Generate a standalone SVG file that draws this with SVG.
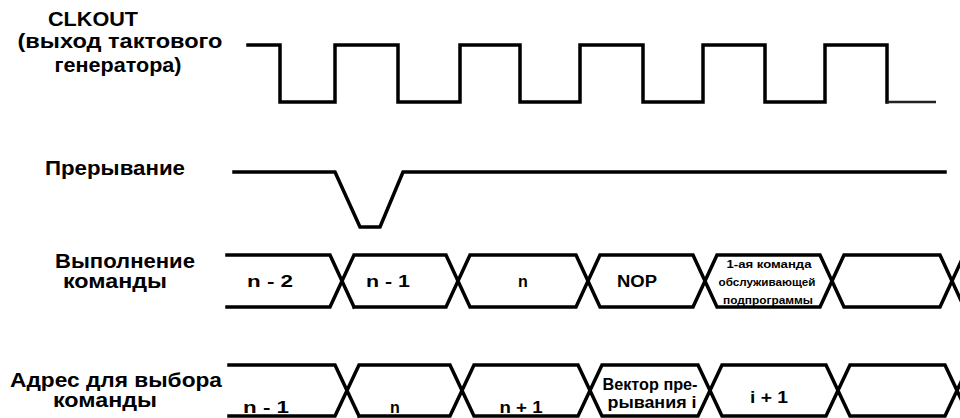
<svg xmlns="http://www.w3.org/2000/svg" width="960" height="418" viewBox="0 0 960 418">
<style>
.w{fill:none;stroke:#000;stroke-width:3.5;stroke-linejoin:miter;stroke-linecap:square}
.lb{font-family:"Liberation Sans",Arial,sans-serif;font-weight:bold;font-size:20px;fill:#000;text-anchor:middle}
.v{font-family:"Liberation Sans",Arial,sans-serif;font-weight:bold;font-size:16px;fill:#000;text-anchor:middle}
.s{font-family:"Liberation Sans",Arial,sans-serif;font-weight:bold;font-size:11px;fill:#000;text-anchor:middle}
</style>
<rect width="960" height="418" fill="#fff"/>
<g id="labels">
<text class="lb" x="93" y="26" textLength="90" lengthAdjust="spacingAndGlyphs">CLKOUT</text>
<text class="lb" x="120" y="48" textLength="205" lengthAdjust="spacingAndGlyphs">(выход тактового</text>
<text class="lb" x="118" y="72" textLength="127" lengthAdjust="spacingAndGlyphs">генератора)</text>
<text class="lb" x="115" y="175" textLength="140" lengthAdjust="spacingAndGlyphs">Прерывание</text>
<text class="lb" x="125" y="268" textLength="140" lengthAdjust="spacingAndGlyphs">Выполнение</text>
<text class="lb" x="115" y="288" textLength="104" lengthAdjust="spacingAndGlyphs">команды</text>
<text class="lb" x="116" y="387" textLength="212" lengthAdjust="spacingAndGlyphs">Адрес для выбора</text>
<text class="lb" x="105" y="407" textLength="104" lengthAdjust="spacingAndGlyphs">команды</text>
</g>
<g id="connectors">
<path id="clk" class="w" d="M248,45 H280 V102 H335 V45 H398 V102 H460 V45 H520 V102 H580 V45 H643 V102 H703 V45 H765 V102 H825 V45 H887 V102"/>
<path id="clk-tail" fill="none" stroke="#222" stroke-width="2.5" d="M887,102 H936"/>
<path id="irq" class="w" d="M234,172 H335 L360,227 H380 L403,172 H945"/>
<path id="exec" class="w" d="M227,255 H330 L354,307 M227,307 H330 L354,255 H446 L470,307 H576 L600,255 H693 L717,307 H820 L844,255 H940 L964,307 M354,307 H446 L470,255 H576 L600,307 H693 L717,255 H820 L844,307 H940 L964,255"/>
<path id="addr" class="w" d="M229,365 H335 L359,416 M229,416 H335 L359,365 H450 L474,416 H578 L602,365 H698 L722,416 H826 L850,365 H945 L969,416 M359,416 H450 L474,365 H578 L602,416 H698 L722,365 H826 L850,416 H945 L969,365"/>
</g>
<g id="exec-values">
<text class="v" x="270" y="287" textLength="46" lengthAdjust="spacingAndGlyphs">n - 2</text>
<text class="v" x="388" y="287" textLength="44" lengthAdjust="spacingAndGlyphs">n - 1</text>
<text class="v" x="523" y="287">n</text>
<text class="v" x="637" y="287" textLength="40" lengthAdjust="spacingAndGlyphs">NOP</text>
<text class="s" x="769" y="268" textLength="85" lengthAdjust="spacingAndGlyphs">1-ая команда</text>
<text class="s" x="767" y="286" textLength="97" lengthAdjust="spacingAndGlyphs">обслуживающей</text>
<text class="s" x="768" y="304" textLength="90" lengthAdjust="spacingAndGlyphs">подпрограммы</text>
</g>
<g id="addr-values">
<text class="v" x="266" y="413" textLength="46" lengthAdjust="spacingAndGlyphs">n - 1</text>
<text class="v" x="395" y="413">n</text>
<text class="v" x="521" y="413" textLength="43" lengthAdjust="spacingAndGlyphs">n + 1</text>
<text class="v" x="650" y="390" textLength="95" lengthAdjust="spacingAndGlyphs">Вектор пре-</text>
<text class="v" x="652" y="408" textLength="89" lengthAdjust="spacingAndGlyphs">рывания i</text>
<text class="v" x="769" y="403" textLength="38" lengthAdjust="spacingAndGlyphs">i + 1</text>
</g>
</svg>
